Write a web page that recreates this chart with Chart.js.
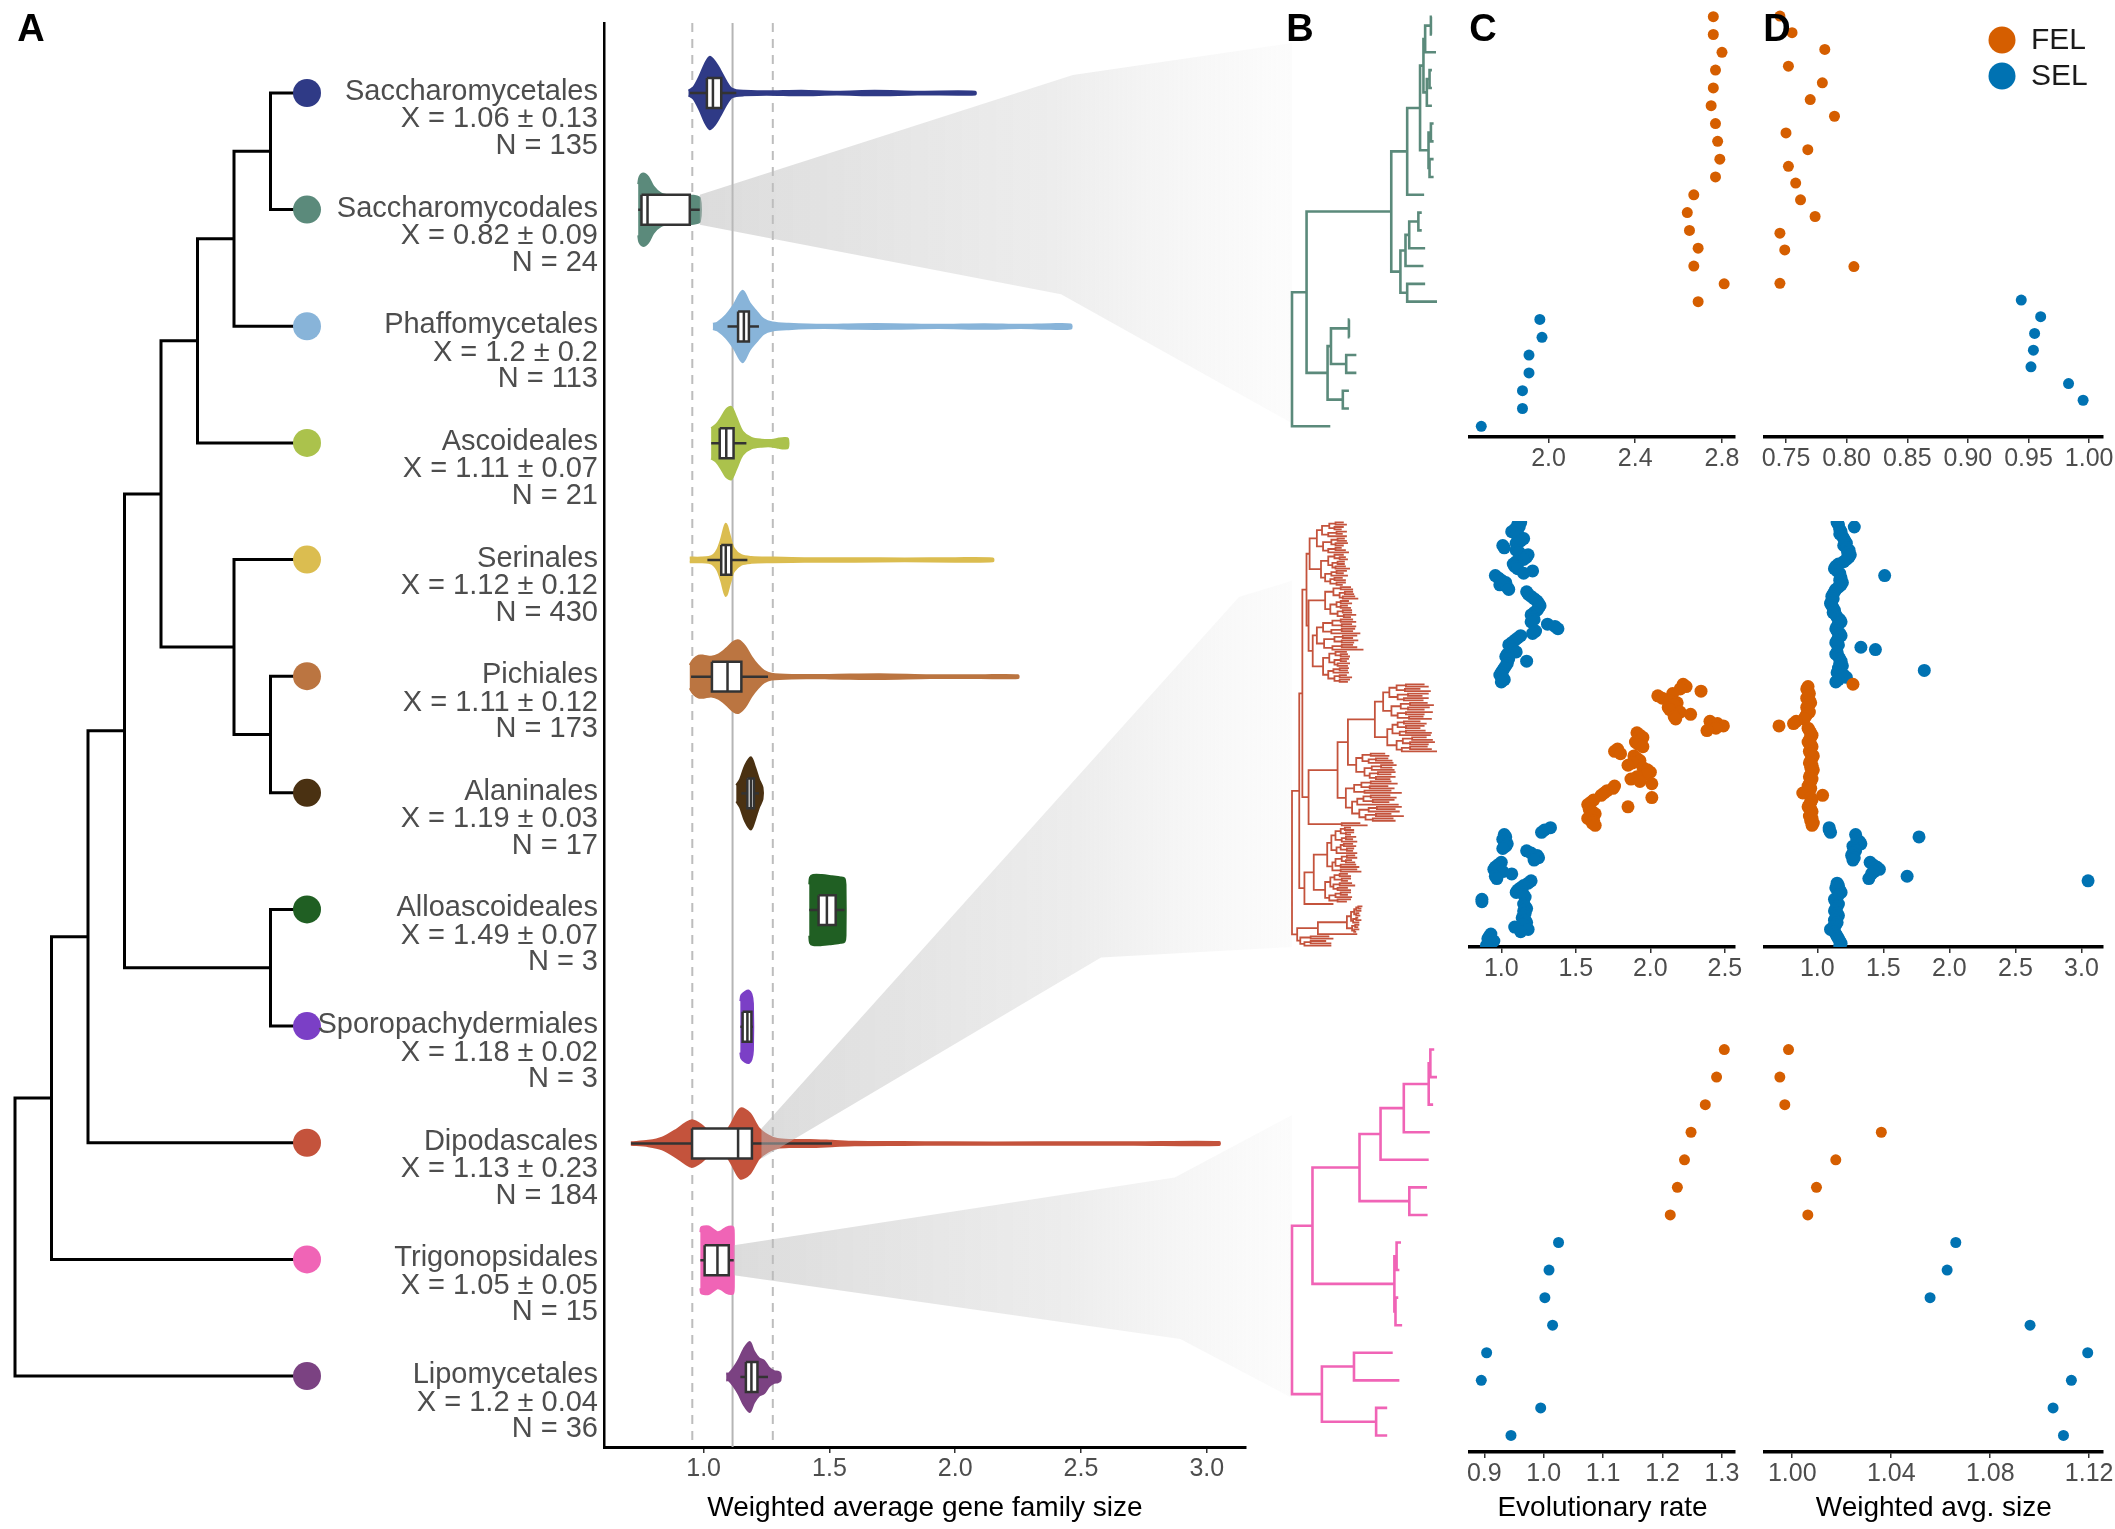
<!DOCTYPE html>
<html>
<head>
<meta charset="utf-8">
<title>Weighted average gene family size across yeast orders</title>
<script src="https://cdn.jsdelivr.net/npm/chart.js@4.4.1/dist/chart.umd.min.js"></script>
<style>
  html, body { margin:0; padding:0; background:#ffffff; width:2115px; height:1529px; overflow:hidden; }
  canvas { position:absolute; }
</style>
</head>
<body>
<canvas id="cvTreeA" width="604" height="1529" style="left:0px;top:0px"></canvas>
<canvas id="cvViolin" width="720" height="1529" style="left:580px;top:0px"></canvas>
<canvas id="cvB1" width="160" height="480" style="left:1285px;top:0px"></canvas>
<canvas id="cvB2" width="160" height="500" style="left:1285px;top:490px"></canvas>
<canvas id="cvB3" width="160" height="529" style="left:1285px;top:1000px"></canvas>
<canvas id="cvC1" width="285" height="480" style="left:1460px;top:0px"></canvas>
<canvas id="cvC2" width="285" height="500" style="left:1460px;top:490px"></canvas>
<canvas id="cvC3" width="285" height="529" style="left:1460px;top:1000px"></canvas>
<canvas id="cvD1" width="360" height="480" style="left:1755px;top:0px"></canvas>
<canvas id="cvD2" width="360" height="500" style="left:1755px;top:490px"></canvas>
<canvas id="cvD3" width="360" height="529" style="left:1755px;top:1000px"></canvas>
<script>
// ===================== DATA =====================
const orders = ['Saccharomycetales','Saccharomycodales','Phaffomycetales','Ascoideales','Serinales','Pichiales',
  'Alaninales','Alloascoideales','Sporopachydermiales','Dipodascales','Trigonopsidales','Lipomycetales'];
const orderMean = [1.06, 0.82, 1.2, 1.11, 1.12, 1.11, 1.19, 1.49, 1.18, 1.13, 1.05, 1.2];
const orderSD   = [0.13, 0.09, 0.2, 0.07, 0.12, 0.12, 0.03, 0.07, 0.02, 0.23, 0.05, 0.04];
const orderN    = [135, 24, 113, 21, 430, 173, 17, 3, 3, 184, 15, 36];
const orderColors = ['#2f3a86','#5b8a7b','#88b4d9','#abc24c','#dbbd50','#bb7541',
  '#4a3112','#205f23','#7b3fc6','#c4533c','#f064b6','#7b4282'];

// order-level cladogram (panel A)
const orderTree = "((((((((Saccharomycetales,Saccharomycodales),Phaffomycetales),Ascoideales),(Serinales,(Pichiales,Alaninales))),(Alloascoideales,Sporopachydermiales)),Dipodascales),Trigonopsidales),Lipomycetales);";

// overall mean and sd of weighted average gene family size (reference lines)
const refMean = 1.115;
const refSD = 0.16;

// violin outlines: x values and half-widths (in row units) per order
const violinX = [
  [0.94, 0.96, 0.985, 1.005, 1.024, 1.045, 1.065, 1.09, 1.11, 1.13, 1.16, 1.25, 1.39, 1.53, 1.68, 1.85, 2.08],
  [0.74, 0.745, 0.76, 0.78, 0.80, 0.83, 0.87, 0.91, 0.94, 0.96, 0.985],
  [1.037, 1.055, 1.09, 1.12, 1.155, 1.183, 1.21, 1.238, 1.274, 1.338, 1.476, 1.613, 1.755, 1.933, 2.116, 2.26, 2.38, 2.46],
  [1.03, 1.05, 1.07, 1.09, 1.11, 1.13, 1.155, 1.19, 1.23, 1.27, 1.30, 1.32, 1.335],
  [0.945, 0.99, 1.02, 1.04, 1.055, 1.07, 1.088, 1.105, 1.12, 1.15, 1.19, 1.27, 1.4, 1.6, 1.8, 2.0, 2.15],
  [0.945, 0.96, 0.98, 1.0, 1.03, 1.06, 1.09, 1.12, 1.14, 1.165, 1.19, 1.215, 1.24, 1.27, 1.35, 1.5, 1.7, 1.9, 2.1, 2.25],
  [1.13, 1.145, 1.165, 1.188, 1.205, 1.22, 1.234],
  [1.42, 1.423, 1.435, 1.47, 1.51, 1.545, 1.56, 1.564],
  [1.146, 1.15, 1.165, 1.18, 1.19, 1.196],
  [0.711, 0.78, 0.835, 0.89, 0.927, 0.954, 0.99, 1.027, 1.055, 1.082, 1.11, 1.146, 1.183, 1.22, 1.256, 1.293, 1.347, 1.42, 1.51, 1.6, 1.79, 1.97, 2.34, 2.71, 3.05],
  [0.987, 0.99, 1.0, 1.02, 1.04, 1.055, 1.07, 1.09, 1.11, 1.118, 1.12],
  [1.09, 1.10, 1.12, 1.14, 1.16, 1.183, 1.20, 1.22, 1.24, 1.26, 1.28, 1.295, 1.305]
];
const violinW = [
  [0.02, 0.05, 0.15, 0.25, 0.31, 0.27, 0.2, 0.1, 0.04, 0.025, 0.02, 0.015, 0.02, 0.012, 0.02, 0.012, 0.012],
  [0.22, 0.28, 0.31, 0.28, 0.2, 0.14, 0.12, 0.12, 0.12, 0.12, 0.1],
  [0.023, 0.034, 0.1, 0.186, 0.306, 0.2, 0.13, 0.063, 0.034, 0.023, 0.014, 0.02, 0.02, 0.014, 0.02, 0.014, 0.02, 0.017],
  [0.13, 0.16, 0.22, 0.29, 0.31, 0.22, 0.1, 0.045, 0.03, 0.028, 0.04, 0.045, 0.04],
  [0.02, 0.02, 0.025, 0.045, 0.09, 0.18, 0.31, 0.2, 0.1, 0.04, 0.025, 0.02, 0.015, 0.015, 0.012, 0.015, 0.012],
  [0.1, 0.15, 0.18, 0.18, 0.17, 0.19, 0.24, 0.3, 0.31, 0.26, 0.17, 0.1, 0.05, 0.025, 0.015, 0.015, 0.02, 0.012, 0.012, 0.012],
  [0.07, 0.12, 0.24, 0.31, 0.22, 0.12, 0.05],
  [0.22, 0.28, 0.3, 0.3, 0.29, 0.28, 0.27, 0.22],
  [0.22, 0.27, 0.3, 0.31, 0.28, 0.2],
  [0.01, 0.023, 0.05, 0.116, 0.173, 0.2, 0.16, 0.087, 0.05, 0.08, 0.17, 0.3, 0.26, 0.13, 0.07, 0.038, 0.03, 0.03, 0.023, 0.015, 0.012, 0.01, 0.01, 0.01, 0.012],
  [0.24, 0.28, 0.29, 0.29, 0.26, 0.24, 0.25, 0.28, 0.29, 0.28, 0.22],
  [0.03, 0.03, 0.08, 0.15, 0.24, 0.3, 0.22, 0.16, 0.14, 0.08, 0.05, 0.045, 0.03]
];
// box plot statistics per order
const whiskerLo = [0.945, 0.74, 1.095, 1.03, 1.015, 0.95, 1.15, 1.42, 1.146, 0.711, 0.987, 1.146];
const boxQ1     = [1.013, 0.753, 1.137, 1.064, 1.07, 1.033, 1.174, 1.457, 1.155, 0.954, 1.004, 1.168];
const boxMedian = [1.037, 0.777, 1.16, 1.09, 1.088, 1.095, 1.188, 1.49, 1.174, 1.137, 1.055, 1.19];
const boxQ3     = [1.07, 0.945, 1.18, 1.119, 1.11, 1.15, 1.2, 1.525, 1.19, 1.192, 1.1, 1.214];
const whiskerHi = [1.13, 0.985, 1.22, 1.17, 1.174, 1.256, 1.22, 1.56, 1.196, 1.51, 1.12, 1.256];

// species trees (panel B), Newick with branch lengths
const topClade1 = "(((((:3,:3):17,:32):5,((:7,:7):8,:15):10):10,((:8,:8):7,(:12,:12):3):25):38,:50)";
const topClade2 = "((((:10,:10):27,:47):11,:53):15,(:53,:88):20)";
const topClade3 = "(((:2,:2):53,(:30,:30):45):10,(:18,:18):45)";
const treeTop = "(((" + topClade1 + ":47," + topClade2 + ":27):250," + topClade3 + ":62):43,:113);";

const midT14a = "((((:8,:11):6,(:9,:7):5):7,((:10,:6):8,:18):6):5,(((:7,:9):6,(:12,:8):4):8,((:6,:10):7,:20):5):6)";
const midT14b = "(((:9,(:6,:8):5):6,((:7,:7):5,(:10,:14):3):4):7,(((:10,:7):5,:16):6,((:8,:11):4,(:9,:6):6):5):4)";
const midT14c = "(((:10,:12):7,((:8,:9):5,(:12,:15):3):6):8,(((:8,:11):4,(:7,:10):4):6,((:9,:9):5,(:12,:7):6):7):5)";
const midT14d = "((((:12,:15):8,(:10,:14):9):9,((:13,:11):10,:28):8):6,(((:14,:10):8,(:16,:12):7):10,((:11,:15):9,:30):8):7)";
const midT14e = "(((:11,(:7,:9):5):6,((:8,:6):6,(:12,:10):3):5):6,(((:9,:8):6,:15):5,((:7,:12):5,(:10,:8):5):6):5)";
const midT16f = "((((:18,:22):9,(:15,:25):8):7,((:20,:14):10,(:24,:19):6):8):6,(((:17,:23):9,(:21,:16):7):9,((:26,:18):8,(:14,:22):11):6):8)";
const midT14g = "((((:16,:22):6,(:18,:14):8):5,((:19,:25):6,:30):7):5,(((:14,:20):9,(:24,:18):7):6,((:17,:21):8,:34):5):9)";
const midT12h = "(((:14,:18):8,((:12,:16):7,:24):6):6,(((:15,:11):9,:22):7,((:17,:13):8,(:19,:14):6):5):8)";
const midT18i = "((((:20,:26):9,(:18,:24):8):7,(:26,:36):10):8,((((:19,:25):7,(:21,:16):9):6,:40):5,(((:24,:18):8,:30):9,((:15,:27):10,(:20,:22):7):6):7):6)";
const midT20j = "(((((:6,:9):4,(:8,:5):5):5,((:10,:7):4,:15):6):4,(((:9,:12):3,(:7,:6):6):4,:20):5):4,((((:8,:10):5,(:6,:9):4):6,(:15,:18):5):3,(:16,:20):8):5)";
const midT13k = "((((:8,:11):5,(:9,:6):7):4,((:12,:15):6,(:10,:13):4):3):5,(((:10,:7):5,:16):6,(:13,:9):8):4)";
const midT12l = "(((((:4,:3):2,:5):2,(:3,:4):2):3,((:2,:5):3,:6):2):4,((:4,:3):3,(:5,:2):2):5)";
const midU = "((" + midT14a + ":7," + midT14b + ":11):3,(" + midT14c + ":16,(" + midT14d + ":4," + midT14e + ":10):4):2)";
const midM = "((((" + midT16f + ":8," + midT14g + ":12):26," + midT12h + ":8):10," + midT18i + ":8):28,(:18,:25):32)";
const midL = "((" + midT20j + ":13," + midT13k + ":11):9,:28)";
const midB = "((" + midT12l + ":28,:38):20,((:18,:22):10,((:15,:20):6,:26):4):3)";
const treeMid = "(((" + midU + ":4," + midM + ":6):3," + midL + ":5):7," + midB + ":5);";

const treeBottom = "(((((((:7,:12):3,:8):45,:47):42,:87):38,(:32,:33):90):85,((:8,:5):4,(:5,:12):2):148):37,((:70,:82):58,(:20,:20):98):54);";

// panel C: evolutionary rate per species (tree tip order), panel D: weighted avg. size
const cTopFEL = [2.76, 2.76, 2.80, 2.77, 2.76, 2.75, 2.77, 2.78, 2.79, 2.77, 2.67, 2.64, 2.65, 2.69, 2.67, 2.81, 2.69];
const cTopSEL = [1.96, 1.97, 1.91, 1.91, 1.88, 1.88, 1.69];
const dTopFEL = [0.745, 0.755, 0.782, 0.752, 0.780, 0.770, 0.790, 0.750, 0.768, 0.752, 0.758, 0.762, 0.774, 0.745, 0.749, 0.806, 0.745];
const dTopSEL = [0.944, 0.960, 0.955, 0.954, 0.952, 0.983, 0.995];

const cMidSEL1 = [1.13, 1.11, 1.12, 1.09, 1.07, 1.10, 1.12, 1.15, 1.13, 1.10,
  1.01, 1.02, 1.10, 1.12, 1.18, 1.17, 1.15, 1.10, 1.08, 1.09,
  1.11, 1.21, 1.15, 0.96, 0.98, 1.00, 1.03, 0.99, 1.04, 1.05,
  1.17, 1.18, 1.20, 1.22, 1.24, 1.25, 1.26, 1.25, 1.24, 1.22,
  1.20, 1.21, 1.22, 1.20, 1.31, 1.36, 1.38, 1.23, 1.21, 1.13,
  1.11, 1.09, 1.07, 1.05, 1.06, 1.08, 1.10, 1.04, 1.03, 1.05,
  1.17, 1.04, 1.03, 1.02, 1.01, 1.00, 0.99, 1.01, 1.02, 1.00];
const cMidFEL = [2.22, 2.24, 2.20, 2.34, 2.15, 2.05, 2.08, 2.13, 2.18, 2.16,
  2.12, 2.13, 2.20, 2.27, 2.16, 2.17, 2.40, 2.45, 2.49, 2.44,
  2.38, 1.91, 1.93, 1.95, 1.94, 1.90, 1.92, 1.95, 1.78, 1.76,
  1.80, 1.89, 1.91, 1.93, 1.88, 1.85, 1.95, 1.98, 2.00, 1.97,
  1.91, 1.87, 1.93, 2.01, 1.76, 1.75, 1.71, 1.69, 1.67, 2.01,
  1.62, 1.60, 1.58, 1.85, 1.59, 1.61, 1.63, 1.60, 1.58, 1.62,
  1.61, 1.63];
const cMidSEL2 = [1.33, 1.29, 1.27, 1.02, 1.03, 1.01, 1.02, 1.04, 1.03, 1.01,
  1.17, 1.20, 1.24, 1.25, 1.22, 1.00, 0.98, 0.96, 0.95, 1.01,
  1.07, 0.96, 0.97, 1.20, 1.18, 1.15, 1.13, 1.11, 1.10, 1.15,
  1.16, 0.87, 0.87, 1.15, 1.16, 1.17, 1.15, 1.16, 1.15, 1.14,
  1.16, 1.17, 1.15, 1.09, 1.18, 1.13, 0.93, 0.92, 0.91, 0.95,
  0.93, 0.90];
const dMidSEL1 = [1.15, 1.16, 1.28, 1.17, 1.18, 1.17, 1.19, 1.20, 1.21, 1.22,
  1.20, 1.22, 1.24, 1.23, 1.25, 1.24, 1.22, 1.20, 1.16, 1.14,
  1.13, 1.15, 1.17, 1.51, 1.18, 1.17, 1.19, 1.18, 1.16, 1.14,
  1.13, 1.12, 1.11, 1.12, 1.11, 1.10, 1.11, 1.12, 1.13, 1.12,
  1.14, 1.15, 1.17, 1.18, 1.16, 1.15, 1.14, 1.15, 1.17, 1.18,
  1.16, 1.15, 1.14, 1.16, 1.33, 1.44, 1.15, 1.14, 1.16, 1.17,
  1.18, 1.17, 1.19, 1.16, 1.81, 1.15, 1.20, 1.22, 1.16, 1.14];
const dMidFEL = [1.27, 0.93, 0.92, 0.93, 0.94, 0.93, 0.92, 0.94, 0.95, 0.93,
  0.92, 0.93, 0.94, 0.92, 0.91, 0.90, 0.84, 0.82, 0.71, 0.93,
  0.94, 0.95, 0.96, 0.95, 0.94, 0.93, 0.95, 0.96, 0.95, 0.94,
  0.95, 0.97, 0.96, 0.95, 0.94, 0.96, 0.95, 0.97, 0.96, 0.95,
  0.94, 0.96, 0.95, 0.94, 0.93, 0.95, 0.94, 0.89, 1.04, 0.95,
  0.96, 0.95, 0.94, 0.93, 0.95, 0.96, 0.95, 0.94, 0.96, 0.95,
  0.97, 0.96];
const dMidSEL2 = [1.09, 1.09, 1.10, 1.29, 1.77, 1.30, 1.32, 1.33, 1.27, 1.28,
  1.29, 1.27, 1.26, 1.28, 1.27, 1.40, 1.42, 1.45, 1.47, 1.43,
  1.41, 1.68, 1.39, 3.05, 1.15, 1.16, 1.14, 1.17, 1.18, 1.16,
  1.15, 1.13, 1.14, 1.16, 1.15, 1.14, 1.13, 1.15, 1.16, 1.14,
  1.13, 1.15, 1.14, 1.12, 1.10, 1.13, 1.14, 1.15, 1.16, 1.17,
  1.18, 1.17];

const cBotFEL = [1.304, 1.291, 1.272, 1.248, 1.237, 1.225, 1.213];
const cBotSEL = [1.025, 1.009, 1.002, 1.015, 0.904, 0.895, 0.995, 0.945];
const dBotFEL = [0.9985, 0.995, 0.997, 1.036, 1.0176, 1.0098, 1.0063];
const dBotSEL = [1.0661, 1.0626, 1.0557, 1.0961, 1.1194, 1.1128, 1.1054, 1.1096];

// axis tick labels
const violinTicks = [1.0, 1.5, 2.0, 2.5, 3.0];
const cTopTicks = [2.0, 2.4, 2.8];
const dTopTicks = [0.75, 0.80, 0.85, 0.90, 0.95, 1.00];
const cMidTicks = [1.0, 1.5, 2.0, 2.5];
const dMidTicks = [1.0, 1.5, 2.0, 2.5, 3.0];
const cBotTicks = [0.9, 1.0, 1.1, 1.2, 1.3];
const dBotTicks = [1.00, 1.04, 1.08, 1.12];

// ===================== STYLE / LAYOUT =====================
const FEL_COLOR = '#d55e00';
const SEL_COLOR = '#0072b2';
const BOX_H = 0.128;
const FONT = '"Liberation Sans", Arial, Helvetica, sans-serif';

Chart.defaults.font.family = FONT;
Chart.defaults.color = '#4d4d4d';
Chart.defaults.animation = false;
Chart.defaults.responsive = false;
Chart.defaults.maintainAspectRatio = false;
Chart.defaults.devicePixelRatio = 1;
Chart.defaults.events = [];
Chart.defaults.layout.autoPadding = false;
Chart.defaults.plugins.legend.display = false;
Chart.defaults.plugins.tooltip.enabled = false;

// ===================== HELPERS =====================
function parseNewick(s) {
  let i = 0;
  function node() {
    const n = { children: [], len: 0, name: '' };
    if (s[i] === '(') {
      i++;
      n.children.push(node());
      while (s[i] === ',') { i++; n.children.push(node()); }
      i++;
    }
    let j = i;
    while (i < s.length && !':,();'.includes(s[i])) i++;
    n.name = s.slice(j, i).trim();
    if (s[i] === ':') {
      i++; j = i;
      while (i < s.length && !',();'.includes(s[i])) i++;
      n.len = parseFloat(s.slice(j, i));
    }
    return n;
  }
  return node();
}

function layoutTree(root, cladogram, rowOf) {
  let tipCount = 0;
  (function walk(n, depth) {
    n.depth = depth;
    if (!n.children.length) {
      n.h = 0;
      n.row = rowOf ? rowOf(n.name) : tipCount + 1;
      tipCount++;
      return;
    }
    n.children.forEach(c => walk(c, depth + c.len));
    n.h = 1 + Math.max(...n.children.map(c => c.h));
    n.row = n.children.reduce((a, c) => a + c.row, 0) / n.children.length;
  })(root, 0);
  let maxX = 0;
  (function setX(n) {
    n.x = cladogram ? root.h - n.h : n.depth;
    maxX = Math.max(maxX, n.x);
    n.children.forEach(setX);
  })(root);
  const segs = [], tips = [];
  (function walk3(n) {
    if (!n.children.length) { tips.push({ x: n.x, y: n.row, name: n.name }); return; }
    n.children.forEach(c => {
      segs.push({ x: n.x, y: n.row }, { x: n.x, y: c.row }, { x: c.x, y: c.row }, { x: null, y: null });
      walk3(c);
    });
  })(root);
  return { segs, tips, maxX };
}

function rows(values, start) { return values.map((v, i) => ({ x: v, y: start + i })); }

function letterPlugin(txt, x, y) {
  return { id: 'letter' + txt, afterDraw(chart) {
    const c = chart.ctx; c.save();
    c.font = 'bold 38px ' + FONT; c.fillStyle = '#000'; c.textAlign = 'center'; c.textBaseline = 'middle';
    c.fillText(txt, x, y); c.restore();
  } };
}

function xAxis(min, max, vals, dec, h, title, bw) {
  return {
    type: 'linear', min: min, max: max,
    afterBuildTicks: s => { s.ticks = vals.map(v => ({ value: v })); },
    afterFit: s => { s.height = h; },
    border: { display: true, color: '#000', width: bw || 3.5 },
    grid: { display: true, drawOnChartArea: false, drawTicks: true, tickLength: 6, color: '#333', lineWidth: 1.5 },
    ticks: { autoSkip: false, maxRotation: 0, minRotation: 0, padding: 1, color: '#4d4d4d',
             font: { size: 25 }, callback: v => Number(v).toFixed(dec) },
    title: { display: !!title, text: title || '', color: '#000', font: { size: 28 }, padding: { top: 0, bottom: 4 } }
  };
}

const charts = {};

// ----- species trees (panel B) -----
function speciesTree(id, newick, color, lw, padTop, padBottom, yMin, yMax, plugins) {
  const t = layoutTree(parseNewick(newick), false, null);
  return new Chart(document.getElementById(id), {
    type: 'scatter',
    data: { datasets: [{ data: t.segs, showLine: true, spanGaps: false, borderColor: color, borderWidth: lw,
      pointRadius: 0, borderJoinStyle: 'miter', clip: 12 }] },
    options: {
      layout: { padding: { left: 7, right: 8, top: padTop, bottom: padBottom } },
      scales: {
        x: { type: 'linear', min: 0, max: t.maxX, display: false },
        y: { type: 'linear', reverse: true, min: yMin, max: yMax, display: false }
      }
    },
    plugins: plugins || []
  });
}
charts.B1 = speciesTree('cvB1', treeTop, orderColors[1], 2.6, 6, 43, 0.4, 24.6, [letterPlugin('B', 15, 31)]);
charts.B2 = speciesTree('cvB2', treeMid, orderColors[9], 1.8, 31, 43, 0.4, 184.6);
charts.B3 = speciesTree('cvB3', treeBottom, orderColors[10], 2.6, 33, 77, 0.4, 15.6);

// ----- scatter panels (C, D) -----
function scatterPanel(id, xMin, xMax, ticks, dec, yMin, yMax, padTop, axisH, padL, padR, fel, sel, r, title, plugins) {
  return new Chart(document.getElementById(id), {
    type: 'scatter',
    data: { datasets: [
      { label: 'FEL', data: fel, backgroundColor: FEL_COLOR, borderWidth: 0, pointRadius: r },
      { label: 'SEL', data: sel, backgroundColor: SEL_COLOR, borderWidth: 0, pointRadius: r }
    ] },
    options: {
      layout: { padding: { top: padTop, left: padL, right: padR, bottom: 0 } },
      scales: {
        x: xAxis(xMin, xMax, ticks, dec, axisH, title),
        y: { type: 'linear', reverse: true, min: yMin, max: yMax, display: false }
      }
    },
    plugins: plugins || []
  });
}

const legendPlugin = { id: 'felSelLegend', afterDraw(chart) {
  const c = chart.ctx, a = chart.chartArea;
  c.save();
  chart.data.datasets.forEach((ds, i) => {
    const cx = a.right - 101, cy = a.top + 34 + i * 36;
    c.fillStyle = ds.backgroundColor; c.beginPath(); c.arc(cx, cy, 13.5, 0, Math.PI * 2); c.fill();
    c.fillStyle = '#1a1a1a'; c.font = '30px ' + FONT; c.textAlign = 'left'; c.textBaseline = 'middle';
    c.fillText(ds.label, cx + 29, cy + 1);
  });
  c.restore();
} };

charts.C1 = scatterPanel('cvC1', 1.638, 2.86, cTopTicks, 1, 0.4, 24.6, 6, 43, 10, 10,
  rows(cTopFEL, 1), rows(cTopSEL, 1 + cTopFEL.length), 5.5, '', [letterPlugin('C', 23, 31)]);
charts.D1 = scatterPanel('cvD1', 0.7327, 1.0114, dTopTicks, 2, 0.4, 26.2, 6, 43, 10, 12,
  rows(dTopFEL, 1), rows(dTopSEL, 1 + dTopFEL.length), 5.5, '', [letterPlugin('D', 22, 31), legendPlugin]);
charts.C2 = scatterPanel('cvC2', 0.79, 2.568, cMidTicks, 1, 0.4, 184.6, 31, 43, 10, 10,
  rows(cMidFEL, 1 + cMidSEL1.length),
  rows(cMidSEL1, 1).concat(rows(cMidSEL2, 1 + cMidSEL1.length + cMidFEL.length)), 6.5, '');
charts.D2 = scatterPanel('cvD2', 0.604, 3.163, dMidTicks, 1, 0.4, 184.6, 31, 43, 10, 12,
  rows(dMidFEL, 1 + dMidSEL1.length),
  rows(dMidSEL1, 1).concat(rows(dMidSEL2, 1 + dMidSEL1.length + dMidFEL.length)), 6.5, '');
charts.C3 = scatterPanel('cvC3', 0.876, 1.322, cBotTicks, 1, 0.4, 15.6, 33, 77, 10, 10,
  rows(cBotFEL, 1), rows(cBotSEL, 1 + cBotFEL.length), 5.5, 'Evolutionary rate');
charts.D3 = scatterPanel('cvD3', 0.989, 1.1254, dBotTicks, 2, 0.4, 15.6, 33, 77, 10, 12,
  rows(dBotFEL, 1), rows(dBotSEL, 1 + dBotFEL.length), 5.5, 'Weighted avg. size');

// ----- order tree and labels (panel A, left) -----
const orderLabelPlugin = { id: 'orderLabels', afterDraw(chart) {
  const c = chart.ctx, ys = chart.scales.y, right = chart.chartArea.right - 6;
  c.save();
  c.font = '29px ' + FONT; c.fillStyle = '#4d4d4d'; c.textAlign = 'right'; c.textBaseline = 'middle';
  orders.forEach((name, i) => {
    const y = ys.getPixelForValue(i);
    c.fillText(name, right, y - 1);
    c.fillText('X = ' + orderMean[i] + ' \u00b1 ' + orderSD[i], right, y + 26.5);
    c.fillText('N = ' + orderN[i], right, y + 53);
  });
  c.restore();
} };

(function () {
  const t = layoutTree(parseNewick(orderTree), true, name => orders.indexOf(name));
  charts.A = new Chart(document.getElementById('cvTreeA'), {
    type: 'scatter',
    data: { datasets: [
      { data: t.tips.map(p => ({ x: p.x, y: p.y })), pointRadius: 14, borderWidth: 0,
        pointBackgroundColor: t.tips.map(p => orderColors[p.y]), order: 0 },
      { data: t.segs, showLine: true, spanGaps: false, borderColor: '#000', borderWidth: 3, pointRadius: 0,
        borderJoinStyle: 'miter', order: 1, clip: 12 }
    ] },
    options: {
      layout: { padding: { top: 23, bottom: 83, left: 0, right: 0 } },
      scales: {
        x: { type: 'linear', min: -0.411, max: 16.137, display: false },
        y: { type: 'linear', reverse: true, min: -0.6, max: 11.6, display: false }
      }
    },
    plugins: [orderLabelPlugin, letterPlugin('A', 31, 31)]
  });
})();

// ----- violins (panel A, right) -----
const wedgeLinks = [
  { row: 1, from: 0.985, target: 'B1', top: 0.086, bottom: 0.968, kinkUp: [0.63, 0.79], kinkLo: [0.61, 0.35] },
  { row: 9, from: 1.23, target: 'B2', top: 0.14, bottom: 1.0, kinkUp: [0.9, 0.97], kinkLo: [0.64, 0.95] },
  { row: 10, from: 1.12, target: 'B3', top: 0.196, bottom: 0.871, kinkUp: [0.79, 0.52], kinkLo: [0.8, 0.52] }
];
const wedgePlugin = { id: 'zoomWedges', afterDatasetsDraw(chart) {
  const c = chart.ctx, xs = chart.scales.x, ys = chart.scales.y;
  const base = chart.canvas.getBoundingClientRect();
  c.save();
  wedgeLinks.forEach(w => {
    const tc = charts[w.target], ta = tc.chartArea, tr = tc.canvas.getBoundingClientRect();
    const ax = xs.getPixelForValue(w.from);
    const ay1 = ys.getPixelForValue(w.row - BOX_H), ay2 = ys.getPixelForValue(w.row + BOX_H);
    const bx = tr.left - base.left + ta.left;
    const by1 = tr.top - base.top + ta.top + w.top * (ta.bottom - ta.top);
    const by2 = tr.top - base.top + ta.top + w.bottom * (ta.bottom - ta.top);
    const k1x = ax + w.kinkUp[0] * (bx - ax), k1y = ay1 + w.kinkUp[1] * (by1 - ay1);
    const k2x = ax + w.kinkLo[0] * (bx - ax), k2y = ay2 + w.kinkLo[1] * (by2 - ay2);
    const g = c.createLinearGradient(ax, 0, bx, 0);
    g.addColorStop(0, 'rgba(185,185,185,0.5)');
    g.addColorStop(0.6, 'rgba(212,212,212,0.42)');
    g.addColorStop(1, 'rgba(240,240,240,0.22)');
    c.fillStyle = g;
    c.beginPath();
    c.moveTo(ax, ay1); c.lineTo(k1x, k1y); c.lineTo(bx, by1); c.lineTo(bx, by2); c.lineTo(k2x, k2y); c.lineTo(ax, ay2);
    c.closePath(); c.fill();
  });
  c.restore();
} };

(function () {
  const ds = [];
  [refMean - refSD, refMean + refSD].forEach(v => ds.push({ data: [{ x: v, y: -0.6 }, { x: v, y: 11.6 }], showLine: true,
    borderColor: '#bdbdbd', borderWidth: 2, borderDash: [9, 7], pointRadius: 0, order: 100 }));
  ds.push({ data: [{ x: refMean, y: -0.6 }, { x: refMean, y: 11.6 }], showLine: true, borderColor: '#b5b5b5',
    borderWidth: 2, pointRadius: 0, order: 100 });
  orders.forEach((name, i) => {
    const up = violinX[i].map((x, k) => ({ x: x, y: i - violinW[i][k] }));
    const lo = violinX[i].map((x, k) => ({ x: x, y: i + violinW[i][k] })).reverse();
    ds.push({ label: name, data: up.concat(lo), showLine: true, fill: 'shape', backgroundColor: orderColors[i],
      borderColor: orderColors[i], borderWidth: 2, tension: 0.3, pointRadius: 0, order: 50 });
    ds.push({ data: [{ x: whiskerLo[i], y: i }, { x: whiskerHi[i], y: i }], showLine: true, borderColor: '#333',
      borderWidth: 2.5, pointRadius: 0, order: 40 });
    ds.push({ data: [{ x: boxQ1[i], y: i - BOX_H }, { x: boxQ3[i], y: i - BOX_H }, { x: boxQ3[i], y: i + BOX_H },
      { x: boxQ1[i], y: i + BOX_H }, { x: boxQ1[i], y: i - BOX_H }], showLine: true, fill: 'shape',
      backgroundColor: '#ffffff', borderColor: '#333', borderWidth: 2.5, borderJoinStyle: 'miter', pointRadius: 0, order: 30 });
    ds.push({ data: [{ x: boxMedian[i], y: i - BOX_H }, { x: boxMedian[i], y: i + BOX_H }], showLine: true,
      borderColor: '#333', borderWidth: 2.5, pointRadius: 0, order: 20 });
  });
  charts.V = new Chart(document.getElementById('cvViolin'), {
    type: 'scatter',
    data: { datasets: ds },
    options: {
      layout: { padding: { left: 24, right: 54, top: 23, bottom: 0 } },
      scales: {
        x: xAxis(0.604, 3.156, violinTicks, 1, 82, 'Weighted average gene family size', 3),
        y: { type: 'linear', reverse: true, min: -0.6, max: 11.6, display: true,
             grid: { display: false }, ticks: { display: false },
             border: { display: true, color: '#000', width: 2.5 },
             afterFit: s => { s.width = 0; } }
      }
    },
    plugins: [wedgePlugin]
  });
})();
</script>
</body>
</html>
